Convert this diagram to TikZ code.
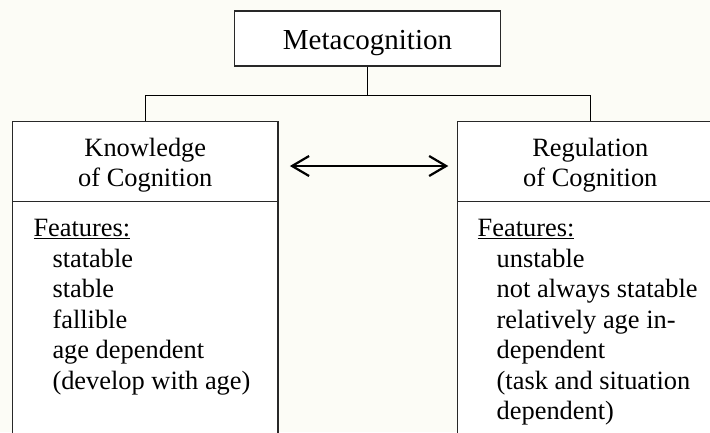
\documentclass[tikz,border=0pt]{standalone}
\usepackage{fontspec}
\setmainfont{Liberation Serif}
\usetikzlibrary{arrows.meta}
\definecolor{bgcream}{RGB}{252,252,246}
\definecolor{boxgray}{RGB}{40,40,40}
\begin{document}
\begin{tikzpicture}[x=1pt,y=-1pt,
  boxline/.style={draw=boxgray, line width=1.3pt, fill=white, inner sep=0pt},
  conn/.style={draw=black, line width=1.3pt},
  hdr/.style={font=\fontsize{26.4}{30.5}\selectfont, anchor=base, inner sep=0pt},
  item/.style={font=\fontsize{26.4}{30.5}\selectfont, anchor=base west, inner sep=0pt},
  arr/.style={line width=2.2pt, {Straight Barb[length=17pt,width=20pt]}-{Straight Barb[length=17pt,width=20pt]}},
]
\fill[bgcream] (0,0) rectangle (710,432);
\useasboundingbox (0,0) rectangle (710,432);
\clip (0,0) rectangle (710,432);

% top box
\node[boxline, minimum width=265.6pt, minimum height=55pt] (meta) at (367.5,38.5) {};
\node[font=\fontsize{29}{33}\selectfont, anchor=base, inner sep=0pt] (metatext) at (367.5,49.3) {Metacognition};

% left box
\node[boxline, minimum width=265.3pt, minimum height=80pt] (khead) at (145.3,161.7) {};
\node[boxline, minimum width=265.3pt, minimum height=260pt] (kbody) at (145.3,331.7) {};
% right box
\node[boxline, minimum width=265.3pt, minimum height=80pt] (rhead) at (590.3,161.7) {};
\node[boxline, minimum width=265.3pt, minimum height=260pt] (rbody) at (590.3,331.7) {};

% connectors
\coordinate (bar) at (367.5,95.3);
\draw[conn] (meta.south) -- (bar);
\draw[conn] (khead.north) |- (bar) -| (rhead.north);
\draw[arr] ([xshift=11.3pt,yshift=-4.3pt]khead.east) -- ([xshift=-8.7pt,yshift=-4.3pt]rhead.west);

% headers
\node[hdr] (k1) at (145.3,156.7) {Knowledge};
\node[hdr] (k2) at (145.3,186.7) {of Cognition};
\node[hdr] (r1) at (590.3,156.7) {Regulation};
\node[hdr] (r2) at (590.3,186.7) {of Cognition};

% left list
\node[item] (kf) at (33.3,236.5) {\underline{Features:}};
\foreach \t [count=\i] in {{statable},{stable},{fallible},{age dependent},{(develop with age)}}
  \node[item] (ki\i) at (52.3,236.5+30.5*\i) {\t};

% right list
\node[item] (rf) at (477.5,236.5) {\underline{Features:}};
\foreach \t [count=\i] in {{unstable},{not always statable},{relatively age in-},{dependent},{(task and situation},{dependent)}}
  \node[item] (ri\i) at (496.5,236.5+30.5*\i) {\t};
\end{tikzpicture}
\end{document}
